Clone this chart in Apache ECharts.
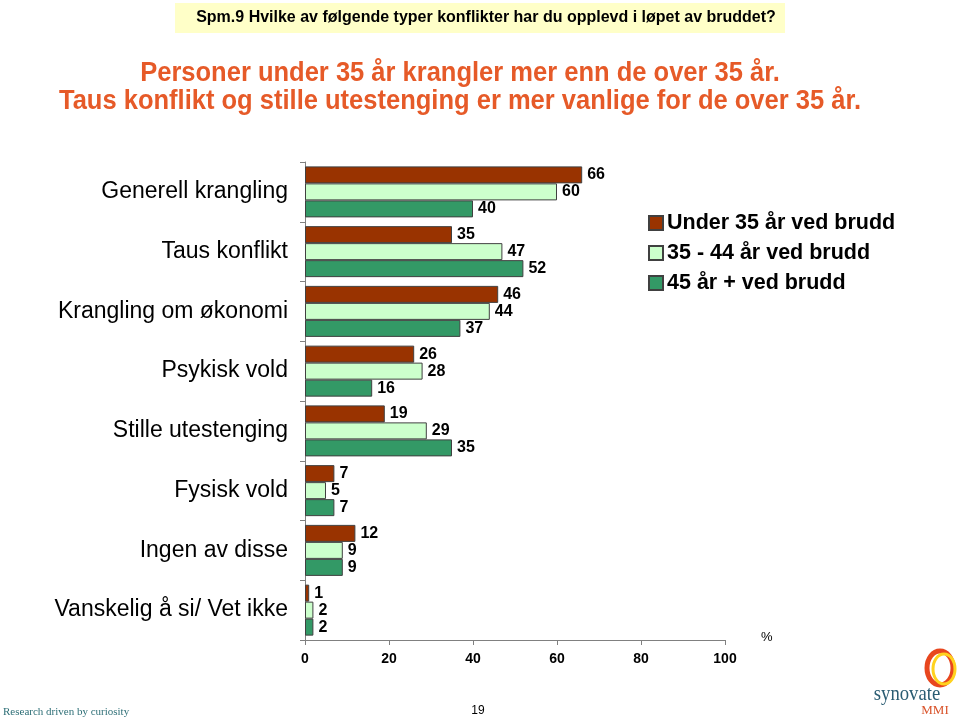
<!DOCTYPE html>
<html>
<head>
<meta charset="utf-8">
<script src="https://cdn.jsdelivr.net/npm/echarts@6/dist/echarts.min.js"></script>
<style>html,body{margin:0;padding:0;background:#fff}#c{width:960px;height:720px}</style>
</head>
<body>
<div id="c"></div>
<script>
const categories = ['Generell krangling','Taus konflikt','Krangling om økonomi','Psykisk vold','Stille utestenging','Fysisk vold','Ingen av disse','Vanskelig å si/ Vet ikke'];
const seriesNames = ['Under 35 år ved brudd','35 - 44 år ved brudd','45 år + ved brudd'];
const under35 = [66, 35, 46, 26, 19, 7, 12, 1];
const age35to44 = [60, 47, 44, 28, 29, 5, 9, 2];
const age45plus = [40, 52, 37, 16, 35, 7, 9, 2];
const xTicks = [0, 20, 40, 60, 80, 100];
const colors = ['#993300', '#CCFFCC', '#339966'];

const chart = echarts.init(document.getElementById('c'), null, {renderer: 'canvas'});
const font = 'Arial, "Liberation Sans", sans-serif';
const values = [under35, age35to44, age45plus];

chart.setOption({
  animation: false,
  backgroundColor: '#ffffff',
  textStyle: {fontFamily: font},
  grid: {left: 305, right: 235, top: 162, bottom: 80, containLabel: false},
  legend: {
    orient: 'vertical', left: 643, top: 207,
    itemWidth: 14, itemHeight: 14, itemGap: 8,
    icon: 'rect',
    data: seriesNames,
    textStyle: {fontSize: 21.5, fontWeight: 'bold', color: '#000', fontFamily: font, lineHeight: 21, padding: [0, 0, 0, -1]}
  },
  xAxis: {
    type: 'value', min: xTicks[0], max: xTicks[xTicks.length - 1], interval: 20,
    axisLine: {show: true, lineStyle: {color: '#808080', width: 1}},
    axisTick: {show: true, inside: false, length: 5, lineStyle: {color: '#808080'}},
    axisLabel: {fontSize: 14, fontWeight: 'bold', color: '#000', margin: 12, fontFamily: font},
    splitLine: {show: false}
  },
  yAxis: {
    type: 'category', inverse: true, data: categories,
    axisLine: {show: true, lineStyle: {color: '#808080', width: 1}},
    axisTick: {show: true, length: 5, lineStyle: {color: '#808080'}},
    axisLabel: {fontSize: 23, color: '#000', margin: 17, fontFamily: font}
  },
  series: seriesNames.map((name, i) => ({
    name: name, type: 'bar', data: values[i],
    barWidth: 17, barGap: '0%',
    itemStyle: {color: colors[i], borderColor: '#404040', borderWidth: 1},
    label: {show: true, position: 'right', distance: 5, fontSize: 16, fontWeight: 'bold', color: '#000', fontFamily: font}
  })),
  graphic: [
    {type: 'rect', shape: {x: 175, y: 3, width: 610, height: 30}, style: {fill: '#FFFFC8'}},
    {type: 'text', x: 486, y: 18, style: {text: 'Spm.9 Hvilke av følgende typer konflikter har du opplevd i løpet av bruddet?', font: 'bold 16px ' + font, fill: '#000', textAlign: 'center', textVerticalAlign: 'middle'}},
    {type: 'text', x: 460, y: 74, scaleX: 0.945, originX: 0, originY: 0, style: {text: 'Personer under 35 år krangler mer enn de over 35 år.', font: 'bold 27px ' + font, fill: '#E65A28', textAlign: 'center', textVerticalAlign: 'middle'}},
    {type: 'text', x: 460, y: 102, scaleX: 0.945, originX: 0, originY: 0, style: {text: 'Taus konflikt og stille utestenging er mer vanlige for de over 35 år.', font: 'bold 27px ' + font, fill: '#E65A28', textAlign: 'center', textVerticalAlign: 'middle'}},
    {type: 'text', x: 761, y: 637, style: {text: '%', font: '13px ' + font, fill: '#000', textVerticalAlign: 'middle'}},
    {type: 'text', x: 478, y: 711, style: {text: '19', font: '12px ' + font, fill: '#000', textAlign: 'center', textVerticalAlign: 'middle'}},
    {type: 'text', x: 3, y: 712, style: {text: 'Research driven by curiosity', font: '11px "Liberation Serif", "Times New Roman", serif', fill: '#2E6F77', textVerticalAlign: 'middle'}},
    {type: 'ellipse', shape: {cx: 940, cy: 668, rx: 13, ry: 17}, style: {fill: 'none', stroke: '#E8461E', lineWidth: 5}},
    {type: 'ellipse', shape: {cx: 944, cy: 669, rx: 11, ry: 15}, style: {fill: 'none', stroke: '#FFD21E', lineWidth: 3}},
    {type: 'text', x: 907, y: 694, scaleX: 0.85, originX: 0, originY: 0, style: {text: 'synovate', font: '22px "Liberation Serif", "Times New Roman", serif', fill: '#2A5C72', textAlign: 'center', textVerticalAlign: 'middle'}},
    {type: 'text', x: 935, y: 711, style: {text: 'MMI', font: '13px "Liberation Serif", "Times New Roman", serif', fill: '#D9532A', textAlign: 'center', textVerticalAlign: 'middle'}}
  ]
});
</script>
</body>
</html>
